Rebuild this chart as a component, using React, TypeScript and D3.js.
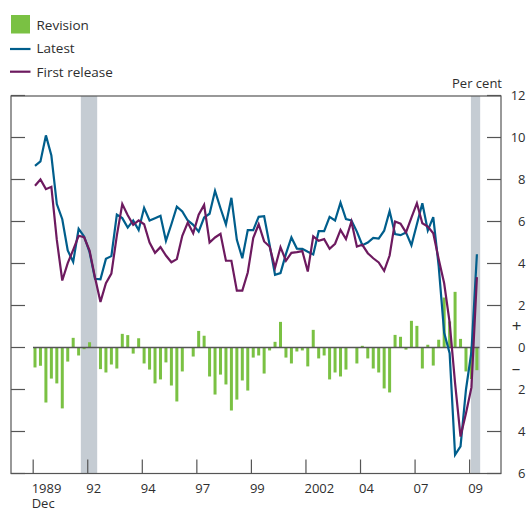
import React from 'react';
import * as d3 from 'd3';

// Quarterly series, index 0 = 1990 Q1
const LATEST = [
  8.65, 8.86, 10.1, 9.14, 6.83, 6.11, 4.62, 4.08, 5.65, 5.29,
  4.54, 3.27, 3.25, 4.22, 4.35, 6.33, 6.16, 5.71, 6.05, 5.59,
  6.65, 6.05, 6.16, 6.27, 5.08, 5.87, 6.71, 6.48, 6.05, 5.84,
  5.52, 6.19, 6.37, 7.46, 6.63, 5.86, 7.13, 5.13, 4.25, 5.59,
  5.59, 6.22, 6.25, 4.89, 3.46, 3.54, 4.46, 5.24, 4.71, 4.7,
  4.56, 4.43, 5.54, 5.54, 6.22, 6.05, 6.9, 6.11, 6.05, 5.52,
  4.87, 5.0, 5.22, 5.19, 5.56, 6.49, 5.4, 5.35, 5.48, 4.87,
  5.87, 6.87, 5.57, 6.21, 3.86, 0.7, -0.27, -5.11, -4.71, -2.0,
  -0.2, 4.44,
];

const FIRST_RELEASE = [
  7.7, 8.0, 7.54, 7.65, 5.12, 3.19, 4.02, 4.65, 5.32, 5.25,
  4.62, 3.33, 2.17, 3.06, 3.52, 5.33, 6.83, 6.3, 5.84, 6.05,
  5.87, 5.0, 4.51, 4.78, 4.38, 4.06, 4.21, 5.32, 5.95, 5.44,
  6.32, 6.79, 5.0, 5.24, 5.41, 4.13, 4.13, 2.71, 2.71, 3.57,
  5.21, 5.87, 5.05, 4.81, 3.8, 4.78, 4.13, 4.51, 4.54, 4.59,
  3.62, 5.29, 5.08, 5.16, 4.7, 4.94, 5.6, 5.16, 6.0, 4.81,
  4.89, 4.49, 4.25, 4.05, 3.65, 4.38, 6.0, 5.9, 5.48, 6.19,
  6.87, 5.92, 5.76, 5.44, 4.2, 3.06, 1.2, -1.7, -4.24, -3.13,
  -1.9, 3.35,
];

const REVISION = [
  -0.95, -0.87, -2.62, -1.48, -1.71, -2.9, -0.67, 0.46, -0.38, -0.08,
  0.25, 0, -1.03, -1.19, -0.81, -1.0, 0.65, 0.59, -0.29, 0.44,
  -0.76, -1.05, -1.71, -1.52, -0.71, -1.81, -2.57, -1.14, 0, -0.43,
  0.79, 0.56, -1.38, -2.24, -1.29, -1.76, -3.0, -2.48, -1.57, -2.05,
  -0.48, -0.38, -1.24, -0.14, 0.27, 1.22, -0.48, -0.76, -0.19, -0.14,
  -0.9, 0.84, -0.52, -0.38, -1.52, -1.19, -1.38, -1.05, 0, -0.76,
  0.08, -0.52, -1.0, -1.19, -1.95, -2.14, 0.6, 0.51, -0.1, 1.27,
  1.03, -1.0, 0.13, -0.86, 0.37, 2.38, 1.24, 2.65, 0.41, -1.14,
  -1.5, -1.08,
];

// x tick dates [year, month] and their labels
const X_TICKS: [number, number, string][] = [
  [1989, 12, '1989'], [1992, 6, '92'], [1994, 12, '94'], [1997, 6, '97'],
  [1999, 12, '99'], [2002, 6, '2002'], [2004, 12, '04'], [2007, 6, '07'], [2009, 12, '09'],
];
const Y_TICKS = [12, 10, 8, 6, 4, 2, 0, -2, -4, -6];
// shaded periods, in quarter index
const BANDS: [number, number][] = [[8.4, 11.4], [79.9, 81.6]];

const C_GREEN = '#7ac143';
const C_BLUE = '#005e8c';
const C_PURPLE = '#6d1a5f';
const C_BAND = '#c5ccd3';
const C_AXIS = '#555';
const C_TEXT = '#2e2e2e';
const FONT = '"Open Sans", "DejaVu Sans", sans-serif';

const W = 528, H = 509;
const L = 11, R = 501, T = 96, B = 473.5;

const monthToQ = (y: number, m: number) => (y - 1990) * 4 + (m - 1) / 3;

export default function App() {
  const x = d3.scaleLinear().domain([0, 81]).range([35, 476.9]);
  const y = d3.scaleLinear().domain([-6, 12]).range([B, B - 18 * 21]);
  const bw = 3;

  const line = (vals: number[]) =>
    d3.line<number>().x((_, i) => x(i)).y((d) => y(d))(vals) || '';

  return (
    <svg width={W} height={H} style={{ position: 'absolute', left: 0, top: 0 }} fontFamily={FONT}>
      {/* legend */}
      <rect x={11} y={15} width={19} height={18.5} fill={C_GREEN} />
      <text x={36.5} y={30} fontSize={13.5} fill={C_TEXT}>Revision</text>
      <line x1={10} x2={30.5} y1={49} y2={49} stroke={C_BLUE} strokeWidth={2.2} />
      <text x={36.5} y={53} fontSize={13.5} fill={C_TEXT}>Latest</text>
      <line x1={10} x2={30.5} y1={71.7} y2={71.7} stroke={C_PURPLE} strokeWidth={2.2} />
      <text x={36.5} y={76.7} fontSize={13.5} fill={C_TEXT}>First release</text>

      <text x={502} y={88.3} fontSize={13} textAnchor="end" fill={C_TEXT}>Per cent</text>

      {/* shaded bands */}
      {BANDS.map(([a, b], i) => (
        <rect key={i} x={x(a)} y={T} width={x(b) - x(a)} height={B - T} fill={C_BAND} />
      ))}

      {/* revision bars */}
      {REVISION.map((v, i) => (
        <rect key={i} x={x(i) - bw / 2} width={bw}
          y={Math.min(y(v), y(0))} height={Math.abs(y(v) - y(0))} fill={C_GREEN} />
      ))}
      <line x1={x(0) - bw / 2 - 0.5} x2={x(81) + bw / 2 + 1} y1={y(0)} y2={y(0)} stroke={C_AXIS} strokeWidth={1.3} />

      <path d={line(LATEST)} fill="none" stroke={C_BLUE} strokeWidth={2.2} />
      <path d={line(FIRST_RELEASE)} fill="none" stroke={C_PURPLE} strokeWidth={2.2} />

      {/* frame */}
      <rect x={L} y={T} width={R - L} height={B - T} fill="none" stroke={C_AXIS} strokeWidth={1.2} />

      {/* y ticks, both sides */}
      {Y_TICKS.map((v) => (
        <g key={v}>
          <line x1={L} x2={L + 14} y1={y(v)} y2={y(v)} stroke={C_AXIS} strokeWidth={1.2} />
          <line x1={R - 14} x2={R} y1={y(v)} y2={y(v)} stroke={C_AXIS} strokeWidth={1.2} />
          <text x={525.5} y={y(v) + 4.7} fontSize={13} textAnchor="end" fill={C_TEXT}>{Math.abs(v)}</text>
        </g>
      ))}
      <text x={516.5} y={y(1) + 5.5} fontSize={17} textAnchor="middle" fill={C_TEXT}>+</text>
      <text x={516} y={y(-1) + 5.5} fontSize={17} textAnchor="middle" fill={C_TEXT}>–</text>

      {/* x ticks */}
      {X_TICKS.map(([yr, m, lab], k) => {
        const px = x(monthToQ(yr, m));
        return (
          <g key={lab}>
            <line x1={px} x2={px} y1={B} y2={B - 14} stroke={C_AXIS} strokeWidth={1.2} />
            <text x={px - 1.5} y={493} fontSize={13} fill={C_TEXT}>
              {lab}
              {k === 0 && <tspan x={px - 1.5} dy={15}>Dec</tspan>}
            </text>
          </g>
        );
      })}
    </svg>
  );
}
